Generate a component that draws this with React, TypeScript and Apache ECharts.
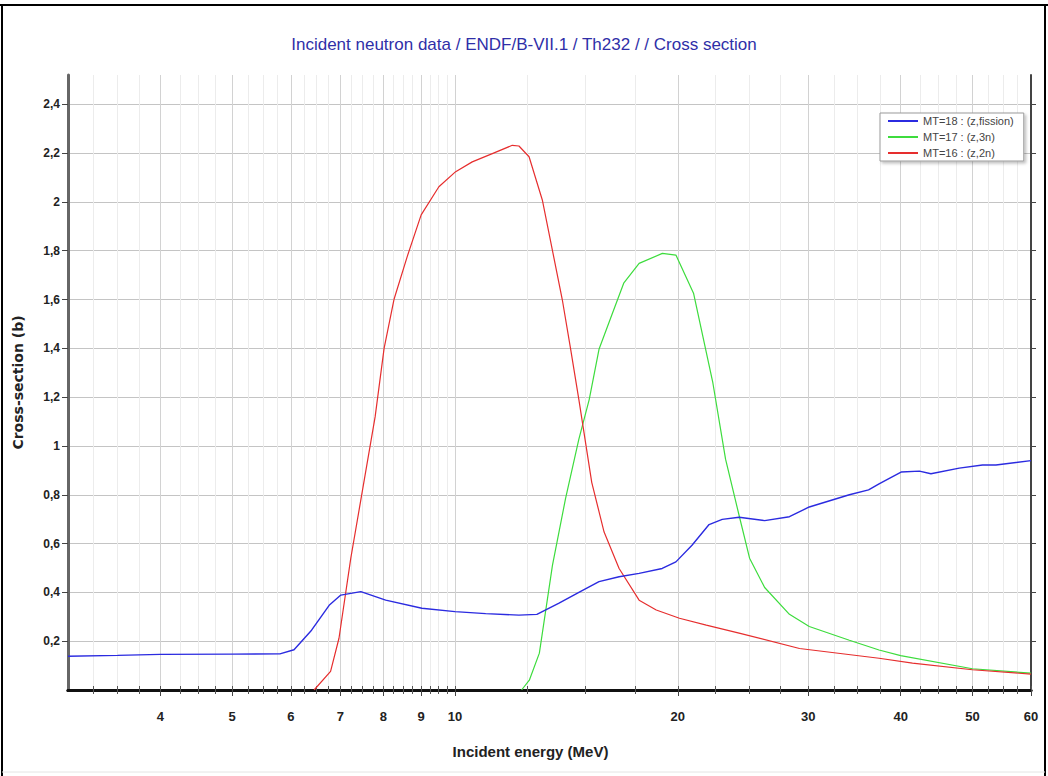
import React, { useEffect, useRef } from 'react';
import * as echarts from 'echarts';

const titleText = 'Incident neutron data / ENDF/B-VII.1 / Th232 / / Cross section';
const xName = 'Incident energy (MeV)';
const yName = 'Cross-section (b)';

const seriesNames = ['MT=18 : (z,fission)', 'MT=17 : (z,3n)', 'MT=16 : (z,2n)'];
const seriesColors = ['#2b2be0', '#3ddc3d', '#e62e2e'];

// MT=18 (z,fission)
const fissionE = [3.0, 3.5, 4.0, 5.0, 5.8, 6.06, 6.4, 6.76, 7.01, 7.46, 8.06, 9.02, 10.0, 11.0, 12.2, 12.9, 13.8, 14.7, 15.65, 16.66, 17.73, 19.05, 19.88, 20.9, 22.04, 22.96, 24.2, 26.2, 28.3, 30.1, 34.1, 36.2, 37.4, 40.05, 42.4, 43.95, 48.0, 51.6, 53.8, 60.0];
const fissionXS = [0.138, 0.142, 0.146, 0.147, 0.148, 0.165, 0.245, 0.347, 0.389, 0.403, 0.368, 0.335, 0.321, 0.313, 0.307, 0.31, 0.355, 0.4, 0.444, 0.464, 0.478, 0.498, 0.525, 0.593, 0.678, 0.699, 0.708, 0.694, 0.71, 0.75, 0.8, 0.82, 0.845, 0.893, 0.897, 0.886, 0.909, 0.922, 0.922, 0.94];

// MT=17 (z,3n)
const n3nE = [12.3, 12.6, 13.0, 13.54, 14.1, 14.7, 15.18, 15.65, 16.2, 16.9, 17.73, 19.06, 19.88, 21.0, 22.3, 23.2, 24.2, 25.0, 26.2, 28.3, 30.1, 34.1, 37.4, 40.0, 50.0, 60.0];
const n3nXS = [0.0, 0.04, 0.151, 0.511, 0.783, 1.028, 1.19, 1.396, 1.518, 1.667, 1.748, 1.789, 1.782, 1.626, 1.259, 0.946, 0.715, 0.54, 0.42, 0.31, 0.26, 0.204, 0.164, 0.141, 0.087, 0.069];

// MT=16 (z,2n)
const n2nE = [6.45, 6.79, 6.97, 7.23, 7.5, 7.8, 8.02, 8.27, 8.62, 9.0, 9.51, 10.02, 10.55, 11.23, 11.95, 12.2, 12.59, 13.12, 13.96, 14.33, 14.7, 15.3, 15.9, 16.66, 17.73, 18.7, 20.1, 21.85, 24.2, 29.2, 37.4, 41.5, 50.0, 60.0];
const n2nXS = [0.0, 0.076, 0.212, 0.539, 0.82, 1.12, 1.4, 1.6, 1.777, 1.947, 2.062, 2.124, 2.164, 2.198, 2.232, 2.229, 2.185, 2.008, 1.6, 1.396, 1.19, 0.851, 0.647, 0.498, 0.368, 0.328, 0.294, 0.266, 0.233, 0.17, 0.13, 0.11, 0.083, 0.065];

const xMin = 3;
const xMax = 60;
const yMin = 0;
const yMax = 2.52;

const majorTicks = [4, 5, 6, 7, 8, 9, 10, 20, 30, 40, 50, 60];
const minorTicks = [3.25, 3.5, 3.75, 4.25, 4.5, 4.75, 5.25, 5.5, 5.75, 6.25, 6.5, 6.75, 7.25, 7.5, 7.75, 8.25, 8.5, 8.75, 9.25, 9.5, 9.75, 12.5, 15, 17.5, 22.5, 25, 27.5, 32.5, 35, 37.5, 42.5, 45, 47.5, 52.5, 55, 57.5];
const yTicks = [0.2, 0.4, 0.6, 0.8, 1.0, 1.2, 1.4, 1.6, 1.8, 2.0, 2.2, 2.4];

const lg = (v: number) => Math.log10(v);
const pairs = (e: number[], s: number[]) => e.map((v, i) => [lg(v), s[i]]);

const NARROW = '"Liberation Sans Narrow", "Liberation Sans", Arial, sans-serif';

export default function App() {
  const ref = useRef<HTMLDivElement>(null);
  useEffect(() => {
    if (!ref.current) return;
    const chart = echarts.init(ref.current, undefined, { renderer: 'svg' });
    const allTicks = [...minorTicks, ...majorTicks].sort((a, b) => a - b).map(lg);
    const grid = { left: 68, right: 17, top: 75, bottom: 86 };
    chart.setOption({
      animation: false,
      backgroundColor: '#ffffff',
      title: {
        text: titleText,
        left: 'center',
        top: 31,
        textStyle: { color: '#2f2fa8', fontSize: 17, fontWeight: 'normal', fontFamily: NARROW },
      },
      legend: {
        data: seriesNames,
        orient: 'vertical',
        left: 880,
        top: 113,
        padding: [2, 10, 2, 8],
        itemGap: 4,
        itemWidth: 30,
        itemHeight: 2,
        icon: 'rect',
        backgroundColor: '#ffffff',
        borderColor: '#9a9a9a',
        borderWidth: 1,
        shadowColor: 'rgba(0,0,0,0.25)',
        shadowBlur: 3,
        shadowOffsetX: 2,
        shadowOffsetY: 2,
        textStyle: { color: '#444', fontSize: 11, lineHeight: 12, fontFamily: NARROW },
      },
      grid: [
        { ...grid },
        { ...grid },
      ],
      xAxis: [
        {
          type: 'value',
          gridIndex: 0,
          position: 'bottom',
          min: lg(xMin),
          max: lg(xMax),
          name: xName,
          nameLocation: 'middle',
          nameGap: 54,
          nameTextStyle: { color: '#222', fontSize: 15, fontWeight: 'bold', fontFamily: NARROW, padding: [0, 38, 0, 0] },
          axisLine: { show: true, lineStyle: { color: '#111', width: 3 } },
          axisTick: { show: true, inside: true, length: 4, customValues: allTicks, lineStyle: { color: '#555' } },
          axisLabel: {
            show: true,
            margin: 20,
            customValues: majorTicks.map(lg),
            formatter: (v: number) => String(Math.round(Math.pow(10, v))),
            color: '#222',
            fontSize: 13,
            fontWeight: 'bold',
            fontFamily: NARROW,
          },
          splitLine: { show: true, lineStyle: { color: '#ececec', width: 1 } },
        },
        {
          type: 'value',
          gridIndex: 0,
          position: 'top',
          min: lg(xMin),
          max: lg(xMax),
          axisLine: { show: true, lineStyle: { color: '#111', width: 3 } },
          axisTick: { show: true, inside: true, length: 4, customValues: allTicks, lineStyle: { color: '#555' } },
          axisLabel: { show: false },
          splitLine: { show: false },
        },
        {
          type: 'value',
          gridIndex: 1,
          position: 'bottom',
          min: lg(xMin),
          max: lg(xMax),
          axisLine: { show: false },
          axisTick: { show: true, inside: false, length: 6, customValues: majorTicks.map(lg), lineStyle: { color: '#444' } },
          axisLabel: { show: false },
          splitLine: { show: true, lineStyle: { color: '#d2d2d2', width: 1 } },
        },
      ],
      yAxis: [
        {
          type: 'value',
          gridIndex: 0,
          position: 'left',
          min: yMin,
          max: yMax,
          name: yName,
          nameLocation: 'middle',
          nameGap: 43,
          nameTextStyle: { color: '#222', fontSize: 14, fontWeight: 'bold', fontFamily: '"DejaVu Sans", sans-serif' },
          axisLine: { show: true, lineStyle: { color: '#666', width: 3 } },
          axisTick: { show: true, inside: false, length: 6, customValues: yTicks, lineStyle: { color: '#444' } },
          axisLabel: {
            show: true,
            margin: 8,
            customValues: yTicks,
            formatter: (v: number) => String(Math.round(v * 10) / 10).replace('.', ','),
            color: '#222',
            fontSize: 12,
            fontWeight: 'bold',
            fontFamily: NARROW,
          },
          splitLine: { show: true, lineStyle: { color: '#c4c4c4', width: 1 } },
        },
        {
          type: 'value',
          gridIndex: 0,
          position: 'right',
          min: yMin,
          max: yMax,
          axisLine: { show: true, lineStyle: { color: '#444', width: 2 } },
          axisTick: { show: true, inside: false, length: 5, customValues: yTicks, lineStyle: { color: '#444' } },
          axisLabel: { show: false },
          splitLine: { show: false },
        },
        {
          type: 'value',
          gridIndex: 1,
          min: yMin,
          max: yMax,
          show: false,
          splitLine: { show: false },
        },
      ],
      series: [
        {
          name: seriesNames[0],
          type: 'line',
          xAxisIndex: 0,
          yAxisIndex: 0,
          data: pairs(fissionE, fissionXS),
          showSymbol: false,
          lineStyle: { color: seriesColors[0], width: 1.4 },
          itemStyle: { color: seriesColors[0] },
          z: 4,
        },
        {
          name: seriesNames[1],
          type: 'line',
          xAxisIndex: 0,
          yAxisIndex: 0,
          data: pairs(n3nE, n3nXS),
          showSymbol: false,
          lineStyle: { color: seriesColors[1], width: 1.2 },
          itemStyle: { color: seriesColors[1] },
          z: 3,
        },
        {
          name: seriesNames[2],
          type: 'line',
          xAxisIndex: 0,
          yAxisIndex: 0,
          data: pairs(n2nE, n2nXS),
          showSymbol: false,
          lineStyle: { color: seriesColors[2], width: 1.2 },
          itemStyle: { color: seriesColors[2] },
          z: 3,
        },
      ],
      graphic: [
        { type: 'line', shape: { x1: 0, y1: 5, x2: 1048, y2: 5 }, style: { stroke: '#000', lineWidth: 2 } },
        { type: 'line', shape: { x1: 2, y1: 5, x2: 2, y2: 776 }, style: { stroke: '#000', lineWidth: 2 } },
        { type: 'line', shape: { x1: 1045, y1: 5, x2: 1045, y2: 776 }, style: { stroke: '#000', lineWidth: 2 } },
        { type: 'line', shape: { x1: 2, y1: 772, x2: 1045, y2: 772 }, style: { stroke: '#e4e4e4', lineWidth: 1 } },
      ],
    });
    return () => chart.dispose();
  }, []);
  return <div ref={ref} style={{ position: 'fixed', left: 0, top: 0, width: 1048, height: 776 }} />;
}
